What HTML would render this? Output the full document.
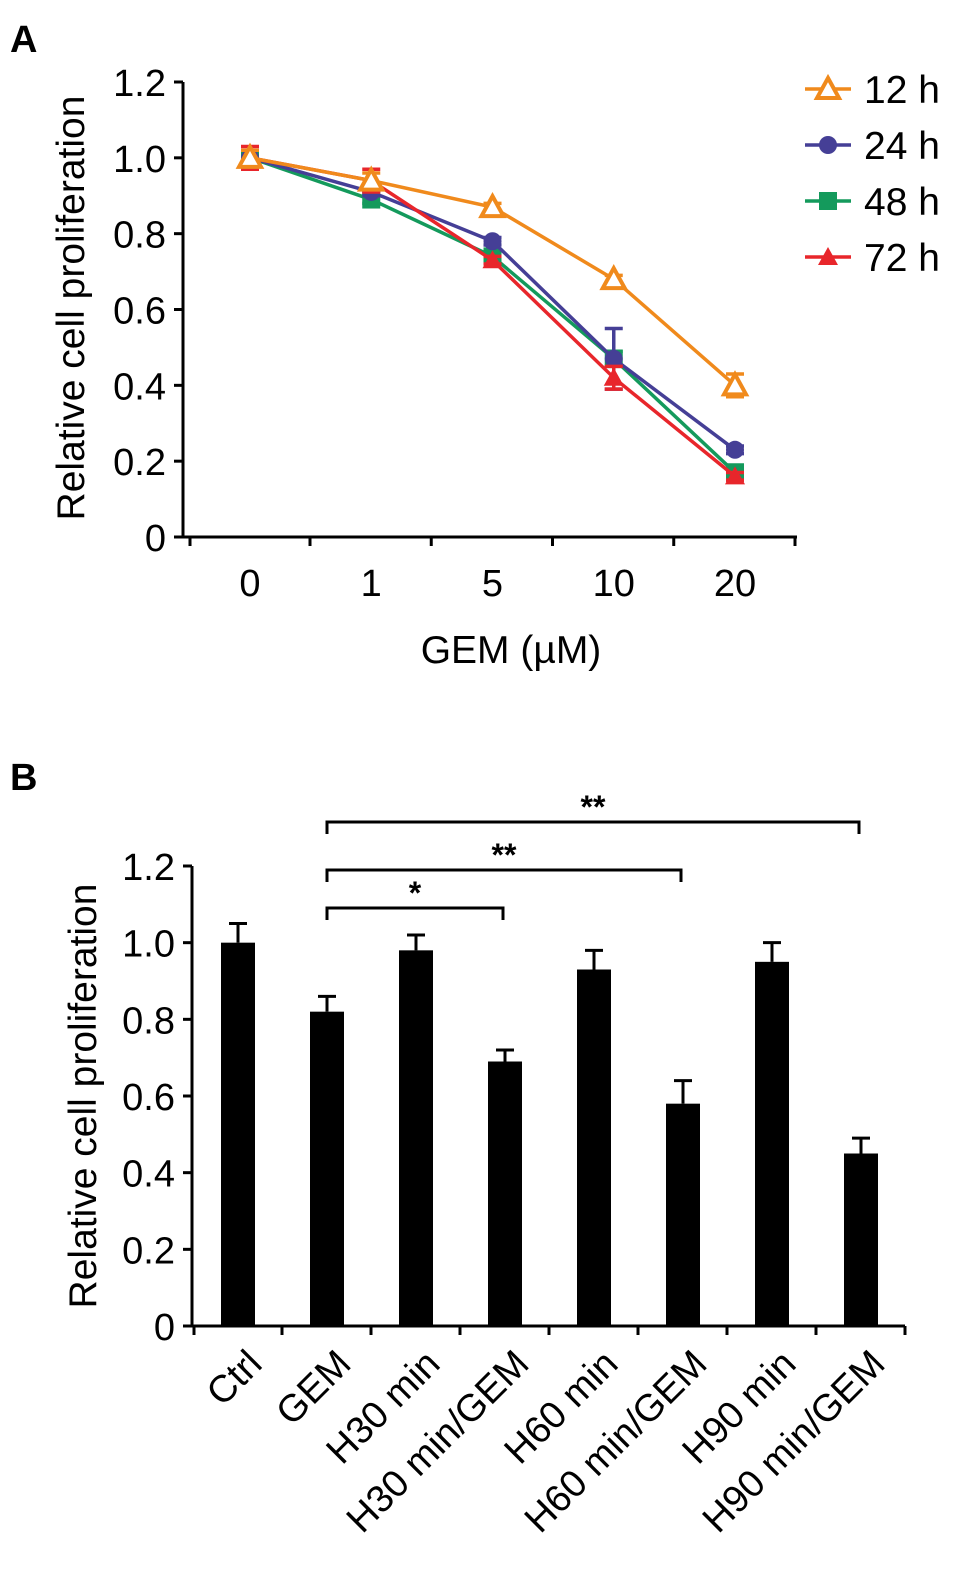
<!DOCTYPE html>
<html><head><meta charset="utf-8"><style>
html,body{margin:0;padding:0;background:#fff;}
svg{display:block;font-family:"Liberation Sans",Arial,sans-serif;}
</style></head><body>
<svg id="chart" width="969" height="1585" viewBox="0 0 969 1585" xmlns="http://www.w3.org/2000/svg"></svg>
<script>
// Panel A data
const doseCats = ["0","1","5","10","20"];
const seriesNames = ["12 h","24 h","48 h","72 h"];
const v12 = [1.0,0.94,0.87,0.68,0.40];
const v24 = [1.0,0.91,0.78,0.47,0.23];
const v48 = [1.0,0.89,0.74,0.47,0.17];
const v72 = [1.0,0.94,0.73,0.42,0.16];
const e12 = [0.02,0.02,0.01,0.01,0.03];
const e24 = [0.02,0.01,0.01,0.08,0.01];
const e48 = [0.02,0.01,0.01,0.02,0.02];
const e72 = [0.03,0.03,0.01,0.03,0.01];
const yTicksA = [0,0.2,0.4,0.6,0.8,1.0,1.2];
const yTickLabelsA = ["0","0.2","0.4","0.6","0.8","1.0","1.2"];
// Panel B data
const groups = ["Ctrl","GEM","H30 min","H30 min/GEM","H60 min","H60 min/GEM","H90 min","H90 min/GEM"];
const barVals = [1.0,0.82,0.98,0.69,0.93,0.58,0.95,0.45];
const barErrs = [0.05,0.04,0.04,0.03,0.05,0.06,0.05,0.04];
const sigFrom = [1,1,1];
const sigTo = [3,5,7];
const sigLabels = ["*","**","**"];

const svg=document.getElementById('chart');
const NS="http://www.w3.org/2000/svg";
function mk(tag,attrs,parent){const e=document.createElementNS(NS,tag);for(const k in attrs)e.setAttribute(k,attrs[k]);(parent||svg).appendChild(e);return e;}
function txt(s,attrs,parent){const e=mk('text',attrs,parent);e.textContent=s;return e;}

const yA=v=>537-v*(537-82)/1.2;
const xA=i=>250+i*121.25;
const gA=mk('g',{});


let t=txt('A',{x:10,y:52,'font-size':38,'font-weight':'bold'},gA);

let ax=mk('path',{d:'M183,82 V537 H797',fill:'none',stroke:'#000','stroke-width':3},gA);

yTicksA.forEach((v,i)=>{
  mk('line',{x1:174,x2:183,y1:yA(v),y2:yA(v),stroke:'#000','stroke-width':3},gA);
  const l=txt(yTickLabelsA[i],{x:166,y:yA(v)+14,'font-size':38,'text-anchor':'end'},gA);
  
});
doseCats.forEach((c,i)=>{
  mk('line',{x1:xA(i)+60,x2:xA(i)+60,y1:537,y2:546,stroke:'#000','stroke-width':3},gA);
  const l=txt(c,{x:xA(i),y:596,'font-size':38,'text-anchor':'middle'},gA);
  
});
mk('line',{x1:190,x2:190,y1:537,y2:546,stroke:'#000','stroke-width':3},gA);
t=txt('GEM (µM)',{x:511,y:663,'font-size':39,'text-anchor':'middle'},gA);

t=txt('Relative cell proliferation',{x:0,y:0,'font-size':39,'text-anchor':'middle',transform:'translate(84,308) rotate(-90)'},gA);


const colors=['#f08a1c','#453f96','#149a5c','#e8262b'];
const vals=[v12,v24,v48,v72], errs=[e12,e24,e48,e72];
function marker(k,x,y,p){
  let m;
  if(k===0) m=mk('path',{d:`M${x},${y-11} L${x+11},${y+9} L${x-11},${y+9} Z`,fill:'#fff',stroke:colors[0],'stroke-width':4},p);
  else if(k===1) m=mk('circle',{cx:x,cy:y,r:9,fill:colors[1]},p);
  else if(k===2) m=mk('rect',{x:x-9,y:y-9,width:18,height:18,fill:colors[2]},p);
  else m=mk('path',{d:`M${x},${y-10} L${x+10},${y+8} L${x-10},${y+8} Z`,fill:colors[3]},p);
  
}
[2,1,3,0].forEach(k=>{
  const g=mk('g',{},gA);
  
  
  const pts=vals[k].map((v,i)=>xA(i)+','+yA(v)).join(' ');
  mk('polyline',{points:pts,fill:'none',stroke:colors[k],'stroke-width':3.5},g);
  vals[k].forEach((v,i)=>{
    const x=xA(i),y1=yA(v+errs[k][i]),y2=yA(v-errs[k][i]);
    mk('path',{d:`M${x},${y1} V${y2} M${x-9},${y1} H${x+9} M${x-9},${y2} H${x+9}`,stroke:colors[k],'stroke-width':3.5,fill:'none'},g);
  });
  vals[k].forEach((v,i)=>marker(k,xA(i),yA(v),g));
});
seriesNames.forEach((s,k)=>{
  const g=mk('g',{},gA);
  
  const y=89+k*56;
  mk('line',{x1:805,x2:851,y1:y,y2:y,stroke:colors[k],'stroke-width':3.5},g);
  marker(k,828,y,g);
  txt(s,{x:864,y:y+14,'font-size':39},g);
});

// Panel B
const yB=v=>1326-v*(1326-866)/1.2;
const xB=i=>238+i*89;
const gB=mk('g',{});

t=txt('B',{x:10,y:790,'font-size':38,'font-weight':'bold'},gB);

groups.forEach((g,i)=>{
  const x=xB(i);
  const r=mk('rect',{x:x-17,y:yB(barVals[i]),width:34,height:1326-yB(barVals[i]),fill:'#000'},gB);
  
  const yt=yB(barVals[i]+barErrs[i]);
  const e=mk('path',{d:`M${x},${yB(barVals[i])} V${yt} M${x-9},${yt} H${x+9}`,stroke:'#000','stroke-width':3,fill:'none'},gB);
  
  mk('line',{x1:x+44,x2:x+44,y1:1326,y2:1335,stroke:'#000','stroke-width':3},gB);
  const l=txt(g,{x:0,y:0,'font-size':38,'text-anchor':'end',transform:`translate(${x+26},${1366}) rotate(-45)`},gB);
  
});
ax=mk('path',{d:'M192,866 V1326 H905',fill:'none',stroke:'#000','stroke-width':3},gB);

mk('line',{x1:194,x2:194,y1:1326,y2:1335,stroke:'#000','stroke-width':3},gB);
yTicksA.forEach((v,i)=>{
  mk('line',{x1:183,x2:192,y1:yB(v),y2:yB(v),stroke:'#000','stroke-width':3},gB);
  const l=txt(yTickLabelsA[i],{x:175,y:yB(v)+14,'font-size':38,'text-anchor':'end'},gB);
  
});
t=txt('Relative cell proliferation',{x:0,y:0,'font-size':39,'text-anchor':'middle',transform:'translate(96,1096) rotate(-90)'},gB);

const sigY=[908,870,822];
sigFrom.forEach((f,k)=>{
  const g=mk('g',{},gB);
  
  const x1=xB(f),x2=xB(sigTo[k])-2,y=sigY[k];
  mk('path',{d:`M${x1},${y+12} V${y} H${x2} V${y+12}`,fill:'none',stroke:'#000','stroke-width':3},g);
  txt(sigLabels[k],{x:(x1+x2)/2,y:y-4,'font-size':32,'font-weight':'bold','text-anchor':'middle'},g);
});
</script>
</body></html>
